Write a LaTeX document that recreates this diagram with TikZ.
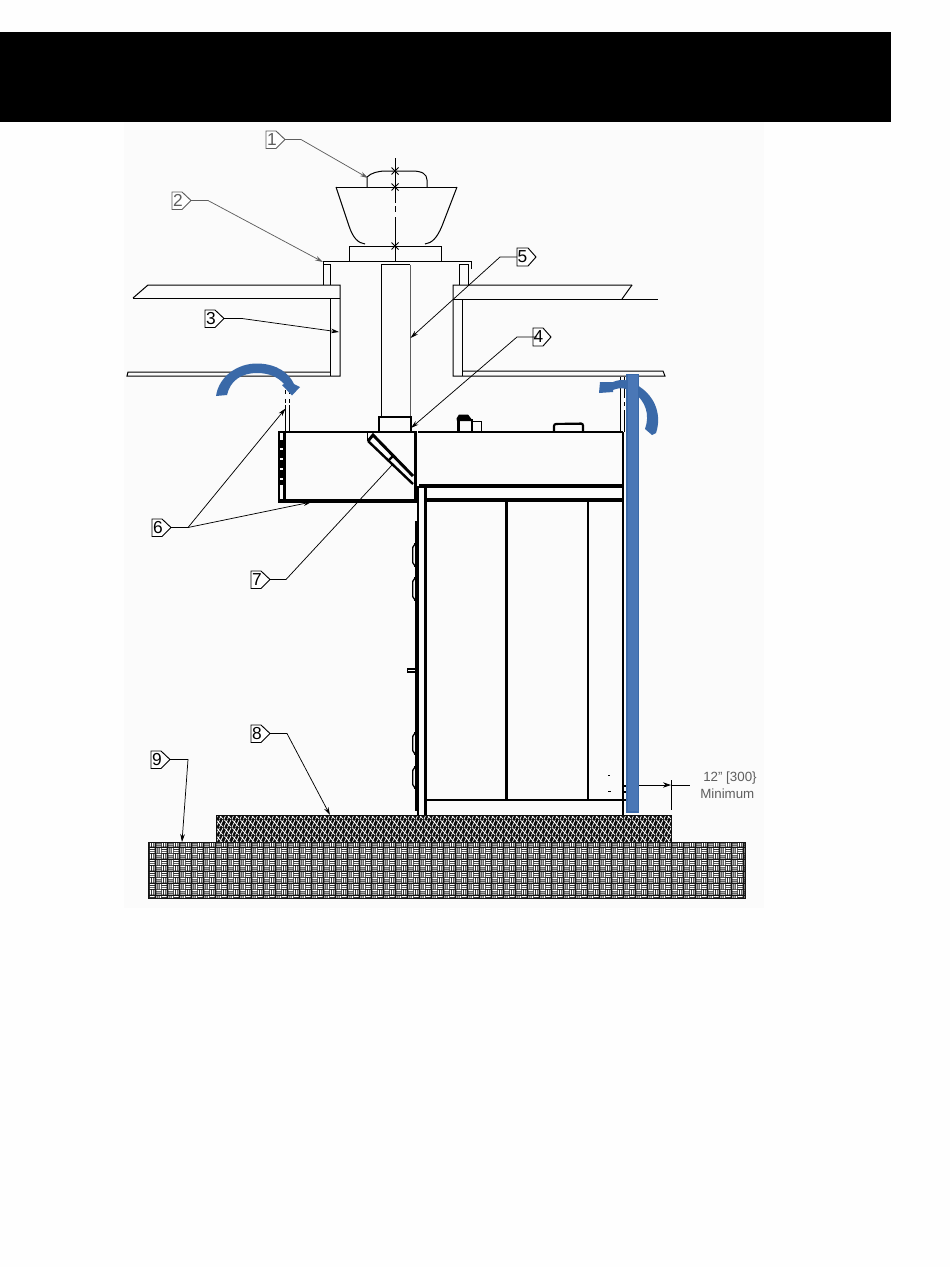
\documentclass[tikz,border=0pt]{standalone}
\usepackage{fontspec}
\setmainfont{Liberation Sans}
\usetikzlibrary{patterns,arrows.meta,calc}
\definecolor{bluebar}{HTML}{4A77B6}
\definecolor{bluedark}{HTML}{3A69A8}
\definecolor{panelbg}{HTML}{FBFBFB}
\definecolor{pagebg}{HTML}{FEFEFE}
\definecolor{soft}{HTML}{5E5E5E}
\pgfdeclarepatternformonly{basket}{\pgfqpoint{0pt}{0pt}}{\pgfqpoint{9pt}{9pt}}{\pgfqpoint{9pt}{9pt}}{
  \pgfsetlinewidth{0.82pt}
  \foreach \k in {0.75,2.25,3.75}{
    \pgfpathmoveto{\pgfqpoint{0.3pt}{\k pt}}\pgfpathlineto{\pgfqpoint{4.2pt}{\k pt}}
    \pgfpathmoveto{\pgfqpoint{\k pt}{4.8pt}}\pgfpathlineto{\pgfqpoint{\k pt}{8.7pt}}
  }
  \foreach \k in {5.25,6.75,8.25}{
    \pgfpathmoveto{\pgfqpoint{4.8pt}{\k pt}}\pgfpathlineto{\pgfqpoint{8.7pt}{\k pt}}
    \pgfpathmoveto{\pgfqpoint{\k pt}{0.3pt}}\pgfpathlineto{\pgfqpoint{\k pt}{4.2pt}}
  }
  \pgfusepath{stroke}
}
\pgfdeclarepatternformonly{mesh}{\pgfqpoint{0pt}{0pt}}{\pgfqpoint{6pt}{6pt}}{\pgfqpoint{6pt}{6pt}}{
  \pgfsetlinewidth{0.6pt}
  \pgfpathmoveto{\pgfqpoint{0pt}{0pt}}\pgfpathlineto{\pgfqpoint{3pt}{6pt}}
  \pgfpathmoveto{\pgfqpoint{3pt}{0pt}}\pgfpathlineto{\pgfqpoint{6pt}{6pt}}
  \pgfpathmoveto{\pgfqpoint{0pt}{6pt}}\pgfpathlineto{\pgfqpoint{6pt}{0pt}}
  \pgfusepath{stroke}
}
\tikzset{
  thinl/.style={draw=black,line width=0.75pt},
  medl/.style={draw=black,line width=1.3pt},
  heavy/.style={draw=black,line width=2.1pt},
  lead/.style={draw=#1,line width=0.55pt,-{Stealth[length=6pt,width=3.5pt]}},
  lead/.default=black,
  tagtext/.style={inner sep=0pt,font=\fontsize{13pt}{14pt}\selectfont},
  dimtext/.style={inner sep=0pt,font=\fontsize{10pt}{11pt}\selectfont,text=soft,anchor=west},
}
% #1 name, #2 left, #3 top, #4 digit, #5 colour
\newcommand{\tagbox}[5]{%
  \draw[draw=#5,line width=0.7pt,fill=white] (#2,#3) -- ++(10,0) -- ++(9,8.5) -- ++(-9,9) -- ++(-10,0) -- cycle;
  \node[tagtext,text=#5] (tag#1) at (#2+6,#3+8.5) {#4};
  \coordinate (tip#1) at (#2+19,#3+8.5);
}
\begin{document}
\begin{tikzpicture}[x=0.75pt,y=-0.75pt]
\useasboundingbox (0,0) rectangle (950,1267);
\fill[pagebg] (0,0) rectangle (950,1267);
\fill[panelbg] (124,122) rectangle (764,908);
\fill[black] (0,32) rectangle (891,121.5);

% ground slabs
\fill[black!92] (148,842) rectangle (746,898.5);
\fill[pattern=basket,pattern color=white] (149.5,843.5) rectangle (744.5,897);
\fill[black!95] (216,815) rectangle (672,842);
\fill[pattern=mesh,pattern color=white] (217,816) rectangle (671,841);

% roof and ceiling, left
\draw[thinl] (148,285) -- (340,285) -- (340,376) -- (127,376) -- (128,372) -- (330,372);
\draw[thinl] (133,298) -- (148,285);
\draw[thinl] (133,298) -- (340,298);
\draw[thinl] (330,298) -- (330,376);
\draw[thinl] (323.5,285) -- (323.5,264.5) -- (330.5,264.5) -- (330.5,285);
% roof and ceiling, right
\draw[thinl] (632,285) -- (453,285) -- (453,376) -- (665,376) -- (663,371) -- (462,371);
\draw[thinl] (632,285) -- (622,299);
\draw[thinl] (453,299) -- (658,299);
\draw[thinl] (462,299) -- (462,376);
\draw[thinl] (459,285) -- (459,264.5) -- (468,264.5) -- (468,285);

% curb top plate and fan
\draw[thinl] (323,270) -- (323,261) -- (471,261) -- (471,269);
\draw[thinl] (349,261) -- (349,246) -- (441,246) -- (441,261);
\draw[thinl] (336,187) -- (457,187);
\draw[thinl] (336,187) -- (349,226) .. controls (353,238) and (358,243) .. (365,244);
\draw[thinl] (457,187) -- (442,226) .. controls (437,238) and (432,243) .. (425,244);
\draw[thinl] (367,187) -- (367,177) .. controls (371,173) and (378,171) .. (386,171) -- (412,171) .. controls (422,171) and (427,174) .. (427,180) -- (427,187);
\draw[thinl] (395,158) -- (395,203);
\draw[thinl] (395,206) -- (395,212);
\draw[thinl] (395,217) -- (395,261);
\foreach \yy in {171,187,246}{
  \draw[line width=0.6pt] (391.5,\yy-3.5) -- (398.5,\yy+3.5) (391.5,\yy+3.5) -- (398.5,\yy-3.5);
}

% duct
\draw[thinl] (381,418) -- (381,264.5) -- (410,264.5);
\draw[line width=0.75pt,draw=soft] (410,264.5) -- (410,418);
\draw[medl] (379,432) -- (379,417) -- (411,417) -- (411,432);

% exhaust hood section
\draw[line width=2.2pt] (278,432) -- (417,432);
\draw[line width=1.4pt] (278.7,432) -- (278.7,500.5);
\draw[line width=2.8pt] (284.5,432) -- (284.5,500.5);
\draw[line width=2.6pt,dash pattern=on 6pt off 1.5pt] (281,440) -- (281,485);
\draw[line width=3pt] (278,500.5) -- (417,500.5);
\draw[line width=2.2pt] (415.5,432) -- (415.5,500.5);
\draw[thinl] (367.7,432) -- (367.7,441);
\draw[line width=2.2pt] (368,441) -- (373,435) -- (413,476);
\draw[line width=1.8pt] (368,441) -- (413,484);
\draw[line width=1.8pt] (389,460) -- (393,456);

% cabinet
\draw[medl] (418,432) -- (623,432);
\draw[line width=2.2pt] (623,432) -- (623,815);
\draw[line width=3pt] (419,486) -- (623,486);
\draw[line width=2.3pt] (425,500) -- (623,500);
\draw[line width=2.6pt] (425.5,486) -- (425.5,815);
\draw[medl] (418,486) -- (418,815);
\draw[line width=2.2pt] (425,800) -- (623,800);
\draw[line width=2.4pt] (506.8,500) -- (506.8,800);
\draw[line width=1.9pt] (588,500) -- (588,800);
\draw[line width=2.6pt] (416.7,521) -- (416.7,811);
\foreach \ya/\yb in {544/566,578/600,733/754,767/788}{
  \draw[line width=1pt,rounded corners=1.5pt] (416,\ya) -- (412.7,\ya+1.5) -- (412.7,\yb-1.5) -- (416,\yb);
  \draw[line width=1.4pt] (414,\ya) -- (419,\ya) (414,\yb) -- (419,\yb);
}
\draw[line width=1pt] (415,669) -- (407.8,669) -- (407.8,672) -- (415,672);
% fittings on cabinet top
\draw[line width=1.8pt] (458.5,432) -- (458.5,420) -- (472,420) -- (472,432);
\fill[black] (456.5,418.5) -- (459,414.5) -- (468,414.5) -- (471,418.5) -- (473,421) -- (457,421) -- cycle;
\draw[thinl] (472,421.5) -- (481.5,421.5) -- (481.5,432);
\draw[line width=1.6pt,rounded corners=1.5pt] (554,432) -- (554,424) -- (583,423.5) -- (583,432);
\draw[line width=1.5pt] (555,423.5) -- (582,423.5);
\fill[black] (608,774.5) rectangle (610,775.5);
\fill[black] (608,790.5) rectangle (610.5,792);
\foreach \yy in {785,791,799}{\fill[black] (623,\yy) rectangle (626,\yy+1.6);}

% dashed wall-clearance lines
\draw[thinl] (285.7,405) -- (285.7,432) (289,405) -- (289,432);
\draw[thinl] (285.7,390) -- (285.7,394) (289,390) -- (289,394);
\draw[thinl] (285.7,399) -- (285.7,403) (289,399) -- (289,403);
\draw[thinl] (620,377) -- (620,432);
\draw[thinl] (624,377) -- (624,398) (624,402) -- (624,406) (624,410) -- (624,432);

% blue arrows and wall
\fill[bluedark] (216,396) .. controls (219,376) and (238,363) .. (258,363.5) .. controls (277,364) and (289,373) .. (294,384)
  -- (300,387) -- (292,395.5) -- (282,385) -- (284,384) .. controls (278,377) and (269,373) .. (257,373) .. controls (241,373) and (230,381) .. (227,395) -- cycle;
\fill[bluedark] (640,387) .. controls (655,397) and (662,415) .. (656,433) -- (652,435) -- (645,429) .. controls (650,415) and (646,401) .. (633,392)
  .. controls (627,388) and (620,387) .. (613,390) -- (613,392) -- (599,393) -- (600,382) -- (613,382) .. controls (622,378) and (632,380) .. (640,387) -- cycle;
\fill[bluebar,draw=bluedark,line width=0.8pt] (627,374.5) rectangle (638.5,812);

% dimension
\coordinate (dimA) at (639,785);
\coordinate (dimB) at (671,785);
\coordinate (dimC) at (690,785);
\coordinate (dimT) at (671,780);
\coordinate (dimU) at (671,810);
\draw[line width=0.6pt,-{Stealth[length=6pt,width=4pt]}] (dimA) -- (dimB);
\draw[line width=0.6pt] (dimB) -- (dimC);
\draw[line width=0.6pt] (dimT) -- (dimU);
\node[dimtext] (dimtop) at (703,778) {12" [300\}};
\node[dimtext] (dimbot) at (700,793.5) {Minimum};

% callouts
\coordinate (end1) at (368,178);
\coordinate (end2) at (323,262);
\coordinate (end3) at (339,332);
\coordinate (end4) at (411,428);
\coordinate (end5) at (410.5,338);
\coordinate (end6a) at (285.5,408.5);
\coordinate (end6b) at (311.5,502);
\coordinate (end7) at (393,464);
\coordinate (end8) at (330,815);
\coordinate (end9) at (182,842);
\tagbox{1}{266}{131}{1}{soft}
\tagbox{2}{172}{192}{2}{soft}
\tagbox{3}{205}{310}{3}{black}
\tagbox{6}{152}{519}{6}{black}
\tagbox{7}{251}{571}{7}{black}
\tagbox{8}{251}{725}{8}{black}
\tagbox{9}{151}{751}{9}{black}
\draw[lead=soft] (tip1) -- ++(16,0) -- (end1);
\draw[lead=soft] (tip2) -- ++(17,0) -- (end2);
\draw[lead] (tip3) -- ++(18,0) -- (end3);
\draw[lead] (tip6) -- ++(17,0) -- (end6a);
\draw[lead] ($(tip6)+(17,0)$) -- (end6b);
\draw[draw=black,line width=0.55pt] (tip7) -- ++(16,0) -- (end7);
\draw[lead] (tip8) -- ++(17,0) -- (end8);
\draw[lead] (tip9) -- ++(18,0) -- (end9);
% tags 5 and 4 carry their lead from the left side
\draw[draw=black,line width=0.7pt,fill=white] (517,248) -- (528,248) -- (536,257) -- (528,266) -- (517,266) -- cycle;
\node[tagtext] (tag5) at (522.5,257) {5};
\coordinate (lead5) at (517,257);
\draw[lead] (lead5) -- ++(-17,0) -- (end5);
\draw[draw=black,line width=0.7pt,fill=white] (533,328) -- (543,328) -- (551,337) -- (543,346) -- (533,346) -- cycle;
\coordinate (lead4) at (537,337);
\draw[lead] (lead4) -- ++(-20,0) -- (end4);
\node[tagtext] (tag4) at (538.5,337) {4};
\end{tikzpicture}
\end{document}
